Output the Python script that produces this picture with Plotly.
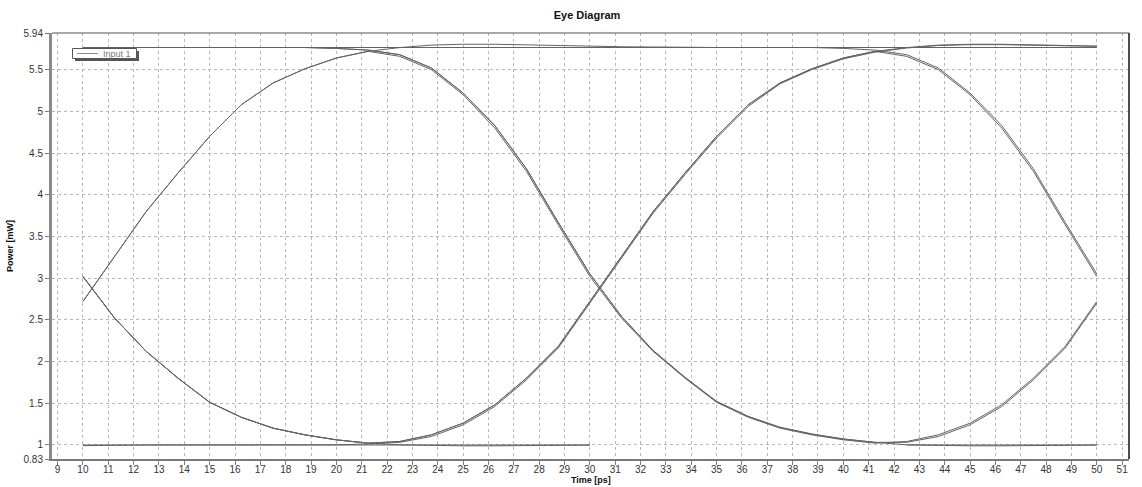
import plotly.graph_objects as go

# Sample instants of the eye traces (ps)
time_ps = [10, 11.25, 12.5, 13.75, 15, 16.25, 17.5, 18.75, 20, 21.25, 22.5,
           23.75, 25, 26.25, 27.5, 28.75, 30, 31.25, 32.5, 33.75, 35, 36.25,
           37.5, 38.75, 40, 41.25, 42.5, 43.75, 45, 46.25, 47.5, 48.75, 50]

# Power traces (mW), one per bit pattern folded into the 40 ps window
high_flat = [5.766, 5.766, 5.766, 5.766, 5.766, 5.766, 5.766, 5.766, 5.766, 5.766, 5.766,
             5.766, 5.766, 5.766, 5.766, 5.766, 5.766, 5.766, 5.766, 5.766, 5.766, 5.766,
             5.766, 5.766, 5.766, 5.766, 5.766, 5.766, 5.766, 5.766, 5.766, 5.766, 5.766]

rise_hold_fall = [2.72, 3.26, 3.80, 4.26, 4.70, 5.08, 5.34, 5.51, 5.64, 5.72,
                  5.765, 5.795, 5.805, 5.805, 5.80, 5.79, 5.783, 5.775, 5.77, 5.767,
                  5.766, 5.766, 5.766, 5.766, 5.755, 5.735,
                  5.68, 5.52, 5.22, 4.83, 4.31, 3.67, 3.05]

rise_fall_rise = [2.72, 3.26, 3.80, 4.26, 4.70, 5.08, 5.34, 5.51, 5.64, 5.72,
                  5.66, 5.50, 5.20, 4.80, 4.28, 3.64, 3.02, 2.52, 2.12, 1.80,
                  1.51, 1.33, 1.20, 1.12, 1.06, 1.02,
                  1.04, 1.12, 1.26, 1.48, 1.80, 2.18, 2.72]

fall_rise_hold = [3.02, 2.52, 2.12, 1.80, 1.51, 1.33, 1.20, 1.12, 1.06, 1.02,
                  1.04, 1.12, 1.26, 1.48, 1.80, 2.18, 2.72, 3.26, 3.80, 4.26,
                  4.70, 5.08, 5.34, 5.51, 5.64, 5.72,
                  5.765, 5.795, 5.805, 5.805, 5.80, 5.79, 5.783]

fall_rise_fall = [3.02, 2.52, 2.12, 1.80, 1.51, 1.33, 1.20, 1.12, 1.06, 1.02,
                  1.04, 1.12, 1.26, 1.48, 1.80, 2.18, 2.72, 3.26, 3.80, 4.26,
                  4.70, 5.08, 5.34, 5.51, 5.64, 5.72,
                  5.66, 5.50, 5.20, 4.80, 4.28, 3.64, 3.02]

hold_fall_low = [5.766, 5.766, 5.766, 5.766, 5.766, 5.766, 5.766, 5.766, 5.755, 5.735,
                 5.68, 5.52, 5.22, 4.83, 4.31, 3.67, 3.05, 2.54, 2.13, 1.81,
                 1.52, 1.34, 1.21, 1.13, 1.07, 1.03,
                 1.0, 0.99, 0.988, 0.988, 0.99, 0.994, 0.997]

hold_fall_rise = [5.766, 5.766, 5.766, 5.766, 5.766, 5.766, 5.766, 5.766, 5.755, 5.735,
                  5.68, 5.52, 5.22, 4.83, 4.31, 3.67, 3.05, 2.54, 2.13, 1.81,
                  1.52, 1.34, 1.21, 1.13, 1.07, 1.03,
                  1.03, 1.10, 1.24, 1.46, 1.78, 2.16, 2.70]

low_rise_hold = [0.99, 0.997, 0.998, 0.998, 0.998, 0.998, 0.998, 0.998, 1.0, 1.01,
                 1.03, 1.10, 1.24, 1.46, 1.78, 2.16, 2.70, 3.24, 3.78, 4.24,
                 4.68, 5.06, 5.33, 5.50, 5.63, 5.71,
                 5.76, 5.79, 5.80, 5.80, 5.795, 5.785, 5.78]

fall_low = [3.02, 2.52, 2.12, 1.80, 1.51, 1.33, 1.20, 1.12, 1.06, 1.02,
            1.0, 0.99, 0.988, 0.988, 0.99, 0.994, 0.997, None, None, None,
            None, None, None, None, None, None,
            None, None, None, None, None, None, None]

low_flat = [0.998, 0.998, 0.998, 0.998, 0.998, 0.998, 0.998, 0.998, 0.998, 0.998,
            0.998, 0.998, 0.998, 0.998, 0.998, 0.998, 0.998, None, None, None,
            None, None, None, None, None, None,
            0.998, 0.998, 0.998, 0.998, 0.998, 0.998, 0.998]

traces = [high_flat, rise_hold_fall, rise_fall_rise, fall_rise_hold,
          fall_rise_fall, hold_fall_low, hold_fall_rise, low_rise_hold,
          fall_low, low_flat]

# Axis ticks
x_ticks = [9, 10, 11, 12, 13, 14, 15, 16, 17, 18, 19, 20, 21, 22, 23, 24, 25, 26,
           27, 28, 29, 30, 31, 32, 33, 34, 35, 36, 37, 38, 39, 40, 41, 42, 43, 44,
           45, 46, 47, 48, 49, 50, 51]
y_ticks = [0.83, 1, 1.5, 2, 2.5, 3, 3.5, 4, 4.5, 5, 5.5, 5.94]
y_tick_text = ["0.83", "1", "1.5", "2", "2.5", "3", "3.5", "4", "4.5", "5", "5.5", "5.94"]

TRACE_COLOR = "#636363"
FONT = "Liberation Sans, Arial, sans-serif"

fig = go.Figure()
for ys in traces:
    fig.add_trace(go.Scatter(
        x=time_ps, y=ys, mode="lines", name="Input 1",
        line=dict(color=TRACE_COLOR, width=1),
        connectgaps=False, showlegend=False, hoverinfo="skip",
    ))

# Plot area in pixels: left 52, right 1129, top 33, bottom 459
L, R, T, B = 52, 13, 33, 28
PW, PH = 1142 - L - R, 487 - T - B


def px(xp):
    return (xp - L) / PW


def py(yp):
    return (487 - B - yp) / PH


shapes = [
    # top and right frame edges
    dict(type="line", xref="paper", yref="paper", x0=0, x1=1, y0=1, y1=1,
         line=dict(color="#8c8c8c", width=1.5), layer="above"),
    dict(type="line", xref="paper", yref="paper", x0=1, x1=1, y0=0, y1=1,
         line=dict(color="#111111", width=1.5), layer="above"),
    # legend shadow and box
    dict(type="rect", xref="paper", yref="paper",
         x0=px(75), x1=px(139), y0=py(61), y1=py(51),
         fillcolor="#555555", line=dict(width=0), layer="above"),
    dict(type="rect", xref="paper", yref="paper",
         x0=px(72.5), x1=px(136.5), y0=py(58.5), y1=py(48.5),
         fillcolor="white", line=dict(color="#555555", width=1), layer="above"),
    dict(type="line", xref="paper", yref="paper",
         x0=px(77), x1=px(98), y0=py(53.5), y1=py(53.5),
         line=dict(color="#8a8a8a", width=1), layer="above"),
]

annotations = [
    dict(text="Input 1", xref="paper", yref="paper", x=px(101), y=py(53.7),
         xanchor="left", yanchor="middle", showarrow=False,
         font=dict(family=FONT, size=9, color="#7a7a7a")),
    dict(text="<b>Time [ps]</b>", xref="paper", yref="paper", x=0.5, y=py(479.5),
         xanchor="center", yanchor="middle", showarrow=False,
         font=dict(family=FONT, size=9, color="#111111")),
    dict(text="<b>Power [mW]</b>", xref="paper", yref="paper", x=px(10), y=0.5,
         xanchor="center", yanchor="middle", showarrow=False, textangle=-90,
         font=dict(family=FONT, size=9, color="#111111")),
]

fig.update_layout(
    width=1142, height=487,
    margin=dict(l=L, r=R, t=T, b=B, pad=0, autoexpand=False),
    paper_bgcolor="white", plot_bgcolor="white",
    font=dict(family=FONT, size=10, color="#333333"),
    title=dict(text="<b>Eye Diagram</b>", x=587 / 1142, y=1 - 15.5 / 487,
               xanchor="center", yanchor="middle", xref="container", yref="container",
               font=dict(family=FONT, size=11, color="#111111")),
    showlegend=False,
    shapes=shapes,
    annotations=annotations,
    xaxis=dict(
        range=[8.78, 51.27], tickmode="array", tickvals=x_ticks,
        ticktext=[str(v) for v in x_ticks], automargin=False,
        showgrid=True, gridcolor="#b8b8b8", griddash="dot", gridwidth=1,
        showline=True, linecolor="#7a7a7a", linewidth=2,
        ticks="outside", ticklen=4, tickcolor="#7a7a7a", ticklabelstandoff=-4,
        tickfont=dict(family=FONT, size=10, color="#333333"),
        zeroline=False, fixedrange=True,
    ),
    yaxis=dict(
        range=[0.83, 5.94], tickmode="array", tickvals=y_ticks, ticktext=y_tick_text,
        automargin=False,
        showgrid=True, gridcolor="#b8b8b8", griddash="dot", gridwidth=1,
        showline=True, linecolor="#8a8a8a", linewidth=3,
        ticks="outside", ticklen=4, tickcolor="#7a7a7a",
        tickfont=dict(family=FONT, size=10, color="#333333"),
        zeroline=False, fixedrange=True,
    ),
)

fig.write_html("out.html")
